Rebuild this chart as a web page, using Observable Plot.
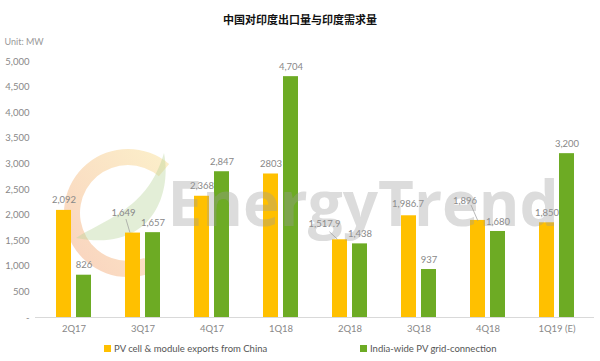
<!DOCTYPE html>
<html>
<head>
<meta charset="utf-8">
<script src="https://cdn.jsdelivr.net/npm/d3@7"></script>
<script src="https://cdn.jsdelivr.net/npm/@observablehq/plot@0.6"></script>
<style>
  html, body { margin: 0; padding: 0; background: #fff; }
  #wrap { width: 600px; height: 361px; position: relative; overflow: hidden; font-family: Lato, "Open Sans", sans-serif; }
  #title { height: 30px; box-sizing: border-box; padding-top: 8px; line-height: 22px; text-align: center;
           font-family: "Noto Sans CJK SC", sans-serif; font-weight: bold; font-size: 11px; color: #111; }
  #legend { position: relative; height: 21px; font-size: 9.5px; color: #555; }
  .item { position: absolute; top: 3px; white-space: nowrap; line-height: 12px; }
  .sw { display: inline-block; width: 7px; height: 7px; margin-right: 3px; vertical-align: 0px; }
</style>
</head>
<body>
<div id="wrap">
  <div id="title">中国对印度出口量与印度需求量</div>
  <div id="chart"></div>
  <div id="legend"></div>
</div>
<script>
const categories = ["2Q17", "3Q17", "4Q17", "1Q18", "2Q18", "3Q18", "4Q18", "1Q19 (E)"];
const exportsChina = [2092, 1649, 2368, 2803, 1517.9, 1986.7, 1896, 1850];
const exportLabels = ["2,092", "1,649", "2,368", "2803", "1,517.9", "1,986.7", "1,896", "1,850"];
const indiaGrid = [826, 1657, 2847, 4704, 1438, 937, 1680, 3200];
const gridLabels = ["826", "1,657", "2,847", "4,704", "1,438", "937", "1,680", "3,200"];
const yTicks = [0, 500, 1000, 1500, 2000, 2500, 3000, 3500, 4000, 4500, 5000];
const seriesNames = ["PV cell & module exports from China", "India-wide PV grid-connection"];
const seriesColors = ["#FFC000", "#6DAB24"];
const unitLabel = "Unit: MW";
const watermark = "EnergyTrend";

const exportData = categories.map((c, i) => ({cat: c, v: exportsChina[i], label: exportLabels[i]}));
const gridData = categories.map((c, i) => ({cat: c, v: indiaGrid[i], label: gridLabels[i]}));

// Layout of the labels that were moved with a leader line (pixel offsets, relative to the bar's top centre)
const moved = {
  "3Q17": {dx: -9.5, dy: -20, line: [-7, -13.5, -3, 0]},
  "2Q18": {dx: -15.5, dy: -15.5, line: [-10.5, -7.5, -2.5, 0]},
  "3Q18": {dx: -1, dy: -11.5, line: null},
  "4Q18": {dx: -13, dy: -19, line: [-7, -15, 0, 1]}
};
const BAR_OFF = 10; // orange bar centre is 10px left of band centre

const TOP = 30; // svg offset on page
function logo() {
  const g = d3.create("svg:g");
  const cx = 128, cy = 213 - TOP;
  const defs = g.append("defs");
  const grad = defs.append("linearGradient").attr("id", "ringGrad")
    .attr("x1", "0").attr("y1", "1").attr("x2", "1").attr("y2", "0");
  grad.append("stop").attr("offset", "0").attr("stop-color", "#F29A6E");
  grad.append("stop").attr("offset", "1").attr("stop-color", "#F8DE8A");
  const arc = d3.arc().innerRadius(48).outerRadius(64)
    .startAngle(-200 * Math.PI / 180).endAngle(40 * Math.PI / 180);
  g.append("path").attr("d", arc()).attr("transform", `translate(${cx},${cy})`)
    .attr("fill", "url(#ringGrad)").attr("fill-opacity", 0.45);
  g.append("path")
    .attr("d", `M${cx - 52},${cy + 25} C${cx - 20},${cy + 5} ${cx + 20},${cy - 5} ${cx + 36},${cy - 60}
                C${cx + 44},${cy - 20} ${cx + 25},${cy + 40} ${cx - 52},${cy + 25} Z`)
    .attr("fill", "#B9D59A").attr("fill-opacity", 0.4);
  return g.node();
}

function leaders(index, scales, values, dims) {
  const g = d3.create("svg:g").attr("stroke", "#999").attr("stroke-width", 0.7).attr("fill", "none");
  const bw = (dims.width - dims.marginLeft - dims.marginRight) / categories.length;
  exportData.forEach(d => {
    const m = moved[d.cat];
    if (!m || !m.line) return;
    const bx = scales.x(d.cat) + bw / 2 - BAR_OFF;
    const by = scales.y(d.v);
    g.append("line")
      .attr("x1", bx + m.line[0]).attr("y1", by + m.line[1])
      .attr("x2", bx + m.line[2]).attr("y2", by + m.line[3]);
  });
  return g.node();
}

const labelStyle = {fill: "#888", fontSize: 9.5};
const exportLabelMarks = [
  Plot.text(exportData.filter(d => !moved[d.cat]), {x: "cat", y: "v", text: "label", dx: -BAR_OFF, dy: -10, ...labelStyle}),
  ...Object.keys(moved).map(cat =>
    Plot.text(exportData.filter(d => d.cat === cat), {x: "cat", y: "v", text: "label",
      dx: -BAR_OFF + moved[cat].dx, dy: moved[cat].dy, ...labelStyle}))
];

const chart = Plot.plot({
  width: 600,
  height: 310,
  marginLeft: 35,
  marginRight: 6,
  marginTop: 31,
  marginBottom: 23,
  style: {fontFamily: "Lato, 'Open Sans', sans-serif", fontSize: "9.5px", color: "#888", background: "#fff"},
  x: {domain: categories, padding: 0, label: null, tickSize: 0, tickPadding: 8},
  y: {domain: [0, 5000], ticks: yTicks, label: null, tickSize: 0, tickPadding: 6,
      tickFormat: d => d === 0 ? "-" : d3.format(",")(d)},
  marks: [
    logo,
    Plot.ruleY([0], {stroke: "#d9d9d9"}),
    Plot.barY(exportData, {x: "cat", y: "v", fill: seriesColors[0], insetLeft: 17, insetRight: 37}),
    Plot.barY(gridData, {x: "cat", y: "v", fill: seriesColors[1], insetLeft: 37, insetRight: 17}),
    ...exportLabelMarks,
    Plot.text(gridData, {x: "cat", y: "v", text: "label", dx: BAR_OFF, dy: -10, ...labelStyle}),
    leaders,
    Plot.text([unitLabel], {frameAnchor: "top-left", dx: -31, dy: -23, textAnchor: "start", fill: "#999", fontSize: 9}),
    Plot.text([watermark], {frameAnchor: "top-left", dx: 132, dy: 145, textAnchor: "start", lineAnchor: "middle",
      fill: "#9a9a9a", fillOpacity: 0.35, fontSize: 62, fontWeight: "bold", fontFamily: "'Open Sans', sans-serif"})
  ]
});
document.getElementById("chart").appendChild(chart);

const legend = document.getElementById("legend");
const xs = [104, 360];
seriesNames.forEach((n, i) => {
  const d = document.createElement("div");
  d.className = "item";
  d.style.left = xs[i] + "px";
  d.innerHTML = `<span class="sw" style="background:${seriesColors[i]}"></span>${n}`;
  legend.appendChild(d);
});
</script>
</body>
</html>
